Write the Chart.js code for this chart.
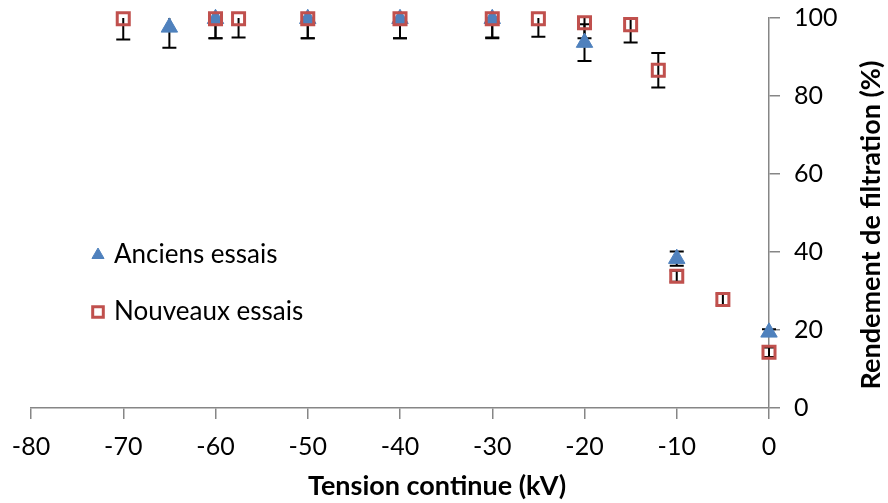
<!DOCTYPE html>
<html>
<head>
<meta charset="utf-8">
<script src="https://cdn.jsdelivr.net/npm/chart.js@4"></script>
<style>
  html, body { margin: 0; padding: 0; background: #fff; }
  #container { width: 888px; height: 503px; }
</style>
</head>
<body>
<div id="container">
  <canvas id="canvas"></canvas>
</div>
<script>
// anciens essais (triangles bleus)
var ancX   = [-65, -60, -50, -40, -30, -20, -10, 0];
var ancY   = [97.6, 99.8, 99.8, 99.8, 99.8, 93.7, 38.3, 19.4];
var ancErr = [5.2, 5, 5, 5, 5, 4.7, 1.8, 0.8];

// nouveaux essais (carres rouges)
var nouvX   = [-70, -60, -57.5, -50, -40, -30, -25, -20, -15, -12, -10, -5, 0];
var nouvY   = [99.8, 99.8, 99.8, 99.8, 99.8, 99.8, 99.8, 98.8, 98.3, 86.6, 33.8, 27.8, 14.3];
var nouvErr = [5.3, 5, 4.8, 5, 5, 4.8, 4.6, 4, 4.6, 4.4, 1.4, 1.4, 1.2];

var xTicks = [-80, -70, -60, -50, -40, -30, -20, -10, 0];
var yTicks = [0, 20, 40, 60, 80, 100];

var labelAnc  = 'Anciens essais';
var labelNouv = 'Nouveaux essais';
var titleX = 'Tension continue (kV)';
var titleY = 'Rendement de filtration (%)';

var blue = '#4F81BD';
var red = '#C0504D';
var axisGrey = '#868686';

function toPoints(xs, ys) {
  return xs.map((x, i) => ({ x: x, y: ys[i] }));
}

// barres d'erreur, dessinees sous les marqueurs
var errorBars = {
  id: 'errorBars',
  beforeDatasetsDraw(chart) {
    var ctx = chart.ctx;
    var xs = chart.scales.x, ys = chart.scales.y;
    var area = chart.chartArea;
    ctx.save();
    ctx.beginPath();
    ctx.rect(area.left - 20, area.top, area.right - area.left + 40, area.bottom - area.top);
    ctx.clip();
    ctx.strokeStyle = '#000';
    ctx.lineWidth = 2;
    var sets = [[ancX, ancY, ancErr], [nouvX, nouvY, nouvErr]];
    sets.forEach(function (s) {
      s[0].forEach(function (x, i) {
        var px = xs.getPixelForValue(x);
        var top = ys.getPixelForValue(s[1][i] + s[2][i]);
        var bot = ys.getPixelForValue(s[1][i] - s[2][i]);
        ctx.beginPath();
        ctx.moveTo(px, top); ctx.lineTo(px, bot);
        ctx.moveTo(px - 7, top); ctx.lineTo(px + 7, top);
        ctx.moveTo(px - 7, bot); ctx.lineTo(px + 7, bot);
        ctx.stroke();
      });
    });
    ctx.restore();
  }
};

// legende dans la zone du graphique + titres des axes
var extras = {
  id: 'extras',
  afterDraw(chart) {
    var ctx = chart.ctx;
    ctx.save();
    var items = [
      { text: labelAnc, style: 'triangle', fill: blue, stroke: blue, bw: 1, r: 7, y: 255 },
      { text: labelNouv, style: 'rect', fill: 'rgba(0,0,0,0)', stroke: red, bw: 3, r: 7.5, y: 312 }
    ];
    items.forEach(function (it) {
      ctx.fillStyle = it.fill;
      ctx.strokeStyle = it.stroke;
      ctx.lineWidth = it.bw;
      Chart.helpers.drawPoint(ctx, { pointStyle: it.style, radius: it.r, borderWidth: it.bw, rotation: 0 }, 98, it.y);
      ctx.fillStyle = '#000';
      ctx.font = '26px Lato';
      ctx.textAlign = 'left';
      ctx.textBaseline = 'middle';
      ctx.fillText(it.text, 114, it.y);
    });

    ctx.fillStyle = '#000';
    ctx.font = 'bold 27px Lato';
    ctx.textAlign = 'center';
    ctx.textBaseline = 'middle';
    ctx.fillText(titleX, 437, 486);

    ctx.translate(871, 225);
    ctx.rotate(-Math.PI / 2);
    ctx.fillText(titleY, 0, 0);
    ctx.restore();
  }
};

var ctx = document.getElementById('canvas');
new Chart(ctx, {
  type: 'scatter',
  data: {
    datasets: [
      {
        label: labelNouv,
        data: toPoints(nouvX, nouvY),
        pointStyle: 'rect',
        pointRadius: 8.5,
        pointHoverRadius: 8.5,
        pointBorderWidth: 3,
        borderColor: red,
        backgroundColor: 'rgba(0,0,0,0)',
        clip: false,
        order: 0
      },
      {
        label: labelAnc,
        data: toPoints(ancX, ancY),
        pointStyle: 'triangle',
        pointRadius: 9.5,
        pointHoverRadius: 9.5,
        pointBorderWidth: 1,
        borderColor: blue,
        backgroundColor: blue,
        clip: false,
        order: 1
      }
    ]
  },
  options: {
    responsive: true,
    maintainAspectRatio: false,
    animation: false,
    events: [],
    layout: { padding: { top: 18, left: 31, right: 0, bottom: 0 } },
    plugins: {
      legend: { display: false },
      tooltip: { enabled: false }
    },
    scales: {
      x: {
        type: 'linear',
        min: -80,
        max: 0,
        afterBuildTicks: function (scale) { scale.ticks = xTicks.map(v => ({ value: v })); },
        afterFit: function (scale) { scale.height = 95; scale.paddingLeft = 0; scale.paddingRight = 0; },
        ticks: { color: '#000', font: { family: 'Lato', size: 25 }, padding: 13, maxRotation: 0, autoSkip: false },
        grid: { drawOnChartArea: false, tickLength: 11, color: axisGrey, lineWidth: 1.5 },
        border: { color: axisGrey, width: 1.5 }
      },
      y: {
        type: 'linear',
        position: 'right',
        min: 0,
        max: 100,
        afterBuildTicks: function (scale) { scale.ticks = yTicks.map(v => ({ value: v })); },
        afterFit: function (scale) { scale.width = 119; scale.paddingTop = 0; scale.paddingBottom = 0; },
        ticks: { color: '#000', font: { family: 'Lato', size: 25 }, padding: 14 },
        grid: { drawOnChartArea: false, tickLength: 11, color: axisGrey, lineWidth: 1.5 },
        border: { color: axisGrey, width: 1.5 }
      }
    }
  },
  plugins: [errorBars, extras]
});
</script>
</body>
</html>
